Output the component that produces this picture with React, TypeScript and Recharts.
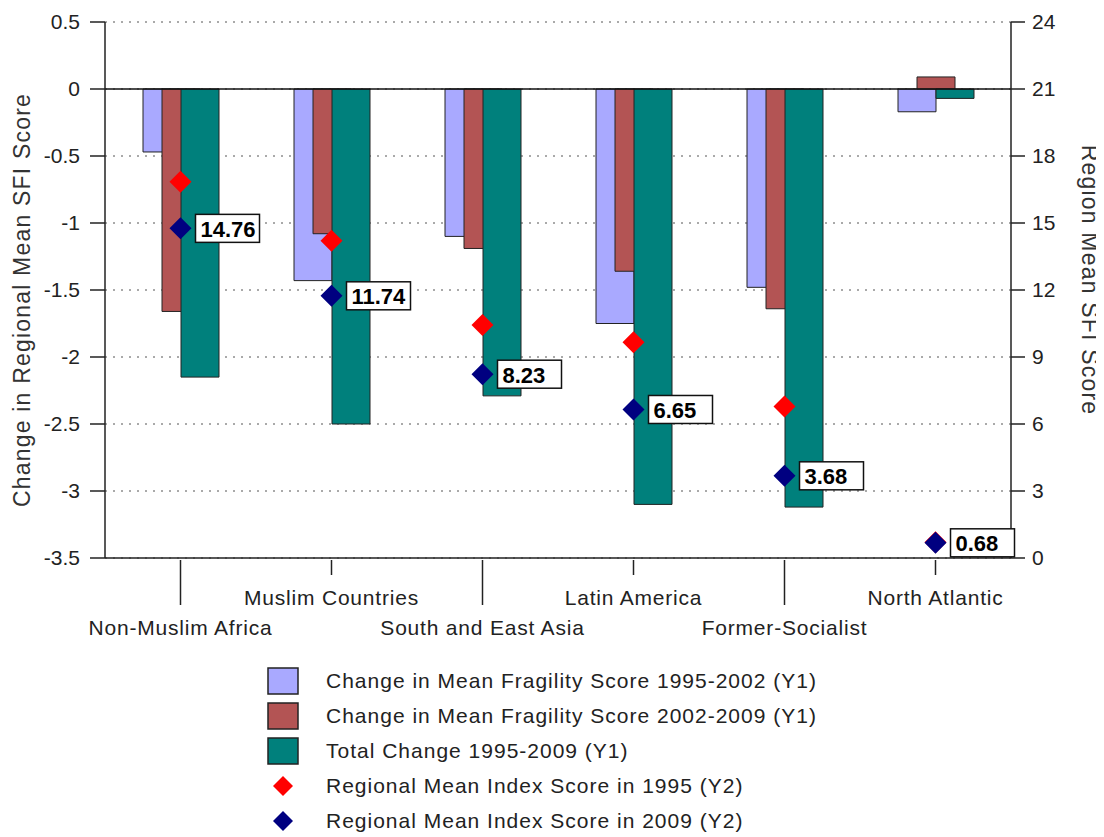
import {
  Bar,
  CartesianGrid,
  ComposedChart,
  Label,
  ReferenceLine,
  Scatter,
  XAxis,
  YAxis,
} from 'recharts';

const regions = [
  'Non-Muslim Africa',
  'Muslim Countries',
  'South and East Asia',
  'Latin America',
  'Former-Socialist',
  'North Atlantic',
];
const change1995to2002 = [-0.47, -1.43, -1.1, -1.75, -1.48, -0.17];
const change2002to2009 = [-1.66, -1.08, -1.19, -1.36, -1.64, 0.09];
const totalChange = [-2.15, -2.5, -2.29, -3.1, -3.12, -0.07];
const score1995 = [16.85, 14.2, 10.43, 9.66, 6.78, 0.71];
const score2009 = [14.76, 11.74, 8.23, 6.65, 3.68, 0.68];

const leftTicks = [0.5, 0, -0.5, -1, -1.5, -2, -2.5, -3, -3.5];
const rightTicks = [0, 3, 6, 9, 12, 15, 18, 21, 24];

const data = regions.map((region, i) => ({
  region,
  a: change1995to2002[i],
  b: change2002to2009[i],
  total: totalChange[i],
  s1995: score1995[i],
  s2009: score2009[i],
}));

const FONT = '"Liberation Sans", Arial, sans-serif';
const LAVENDER = '#a9a9ff';
const BROWN = '#b35454';
const TEAL = '#00807c';
const RED = '#ff0000';
const NAVY = '#000080';

const legendItems = [
  { name: 'Change in Mean Fragility Score 1995-2002 (Y1)', color: LAVENDER, kind: 'box' },
  { name: 'Change in Mean Fragility Score 2002-2009 (Y1)', color: BROWN, kind: 'box' },
  { name: 'Total Change 1995-2009 (Y1)', color: TEAL, kind: 'box' },
  { name: 'Regional Mean Index Score in 1995 (Y2)', color: RED, kind: 'diamond' },
  { name: 'Regional Mean Index Score in 2009 (Y2)', color: NAVY, kind: 'diamond' },
];

const diamond = (cx: number, cy: number, r: number) =>
  `${cx},${cy - r} ${cx + r},${cy} ${cx},${cy + r} ${cx - r},${cy}`;

const RedDiamond = (props: any) => {
  const { cx, cy } = props;
  return <polygon points={diamond(cx, cy, 11)} fill={RED} />;
};

const BlueDiamond = (props: any) => {
  const { cx, cy, payload } = props;
  return (
    <g>
      <polygon points={diamond(cx, cy, 11)} fill={NAVY} />
      <rect x={cx + 15} y={cy - 14} width={64} height={28} fill="#fff" stroke="#111" strokeWidth={1.5} />
      <text
        x={cx + 20}
        y={cy + 1}
        dominantBaseline="central"
        fontFamily={FONT}
        fontSize={22}
        fontWeight="bold"
        fill="#000"
      >
        {payload.s2009.toFixed(2)}
      </text>
    </g>
  );
};

const CategoryTick = (props: any) => {
  const { x, y, payload, index } = props;
  const low = index % 2 === 0;
  return (
    <g>
      <line x1={x} y1={y} x2={x} y2={y + (low ? 45 : 15)} stroke="#222" strokeWidth={1.5} />
      <text
        x={x}
        y={y + (low ? 67 : 37)}
        textAnchor="middle"
        dominantBaseline="central"
        fontFamily={FONT}
        fontSize={21}
        letterSpacing={0.8}
        fill="#222"
      >
        {payload.value}
      </text>
    </g>
  );
};

const AxisTitle = ({ viewBox, text, side }: any) => {
  const { x, y, width, height } = viewBox;
  const cx = side === 'left' ? x + 14 : x + width - 14;
  const cy = y + height / 2 + (side === 'left' ? 10 : -10);
  return (
    <text
      x={cx}
      y={cy}
      transform={`rotate(${side === 'left' ? -90 : 90} ${cx} ${cy})`}
      textAnchor="middle"
      dominantBaseline="central"
      fontFamily={FONT}
      fontSize={23}
      letterSpacing={1.2}
      fill="#333"
    >
      {text}
    </text>
  );
};

const tickStyle = { fontFamily: FONT, fontSize: 21, fill: '#222' };

export default function App() {
  return (
    <div style={{ position: 'relative', width: 1096, height: 829, background: '#fff' }}>
      <ComposedChart
        width={1096}
        height={640}
        data={data}
        margin={{ top: 14, right: 0, bottom: 10, left: 0 }}
        barSize={38}
        barGap={-19}
        barCategoryGap={0}
      >
        <CartesianGrid
          yAxisId="left"
          vertical={false}
          stroke="#555"
          strokeDasharray="2 6"
        />
        <XAxis
          dataKey="region"
          height={80}
          tickSize={0}
          tickLine={false}
          interval={0}
          stroke="#222"
          strokeWidth={1.5}
          tick={<CategoryTick />}
        />
        <YAxis
          yAxisId="left"
          width={97}
          domain={[-3.5, 0.5]}
          ticks={leftTicks}
          tickSize={15}
          tickMargin={10}
          stroke="#222"
          strokeWidth={1.5}
          tick={tickStyle}
          allowDataOverflow
        >
          <Label content={(p: any) => <AxisTitle {...p} text="Change in Regional Mean SFI Score" side="left" />} />
        </YAxis>
        <YAxis
          yAxisId="right"
          orientation="right"
          width={93}
          domain={[0, 24]}
          ticks={rightTicks}
          tickSize={14}
          tickMargin={7}
          stroke="#222"
          strokeWidth={1.5}
          tick={tickStyle}
          allowDataOverflow
        >
          <Label content={(p: any) => <AxisTitle {...p} text="Region Mean SFI Score" side="right" />} />
        </YAxis>
        <Bar yAxisId="left" dataKey="a" fill={LAVENDER} stroke="#222" strokeWidth={1} isAnimationActive={false} />
        <Bar yAxisId="left" dataKey="b" fill={BROWN} stroke="#222" strokeWidth={1} isAnimationActive={false} />
        <Bar yAxisId="left" dataKey="total" fill={TEAL} stroke="#222" strokeWidth={1} isAnimationActive={false} />
        <ReferenceLine yAxisId="left" y={0} stroke="#111" strokeWidth={1.5} />
        <Scatter yAxisId="right" dataKey="s1995" shape={<RedDiamond />} isAnimationActive={false} />
        <Scatter yAxisId="right" dataKey="s2009" shape={<BlueDiamond />} isAnimationActive={false} />
      </ComposedChart>
      {legendItems.map((item, i) => (
        <div
          key={item.name}
          style={{
            position: 'absolute',
            left: 258,
            top: 659 + i * 35,
            height: 28,
            display: 'flex',
            alignItems: 'center',
            fontFamily: FONT,
            fontSize: 21,
            letterSpacing: 1,
            color: '#222',
            whiteSpace: 'nowrap',
          }}
        >
          <svg width={60} height={28}>
            {item.kind === 'box' ? (
              <rect x={2} y={1} width={30} height={26} fill={item.color} stroke="#222" strokeWidth={1.5} />
            ) : (
              <polygon points={diamond(17, 14, 10)} fill={item.color} />
            )}
          </svg>
          <span>{item.name}</span>
        </div>
      ))}
    </div>
  );
}
